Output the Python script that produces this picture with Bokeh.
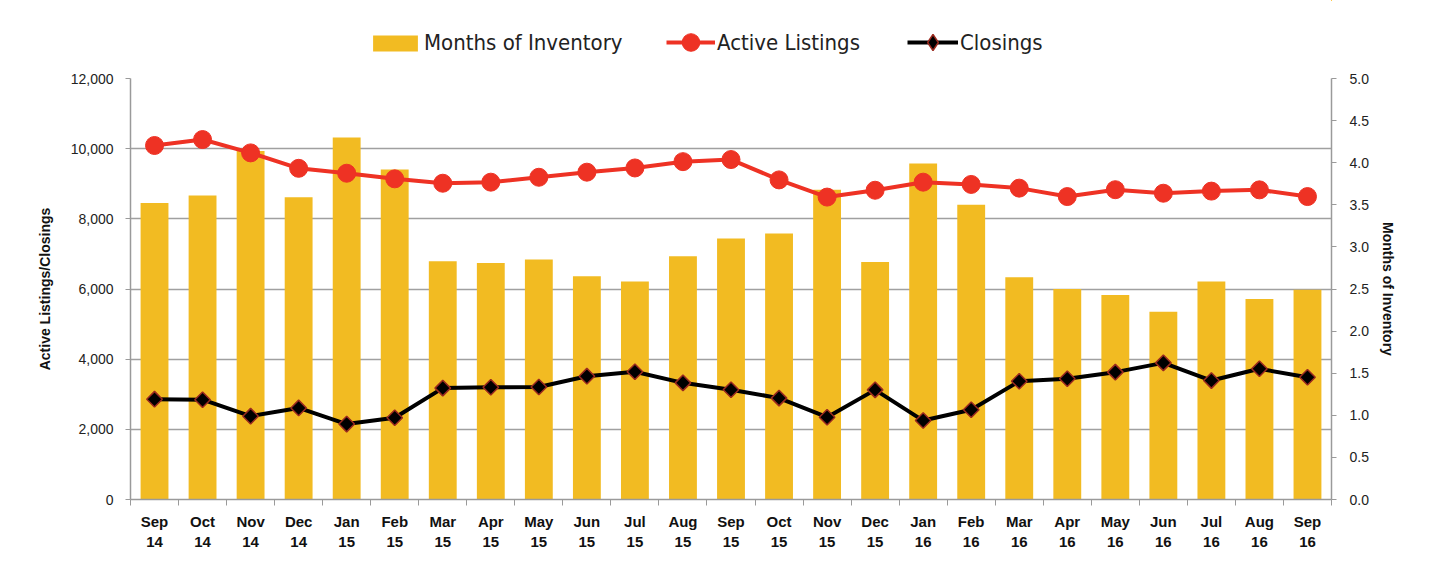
import math
from bokeh.plotting import figure
from bokeh.layouts import column
from bokeh.models import (Range1d, LinearAxis, FixedTicker, NumeralTickFormatter,
                          Legend, LegendItem, ColumnDataSource)
from bokeh.embed import file_html
from bokeh.resources import INLINE

months = ["Sep\n14", "Oct\n14", "Nov\n14", "Dec\n14", "Jan\n15", "Feb\n15", "Mar\n15",
          "Apr\n15", "May\n15", "Jun\n15", "Jul\n15", "Aug\n15", "Sep\n15", "Oct\n15",
          "Nov\n15", "Dec\n15", "Jan\n16", "Feb\n16", "Mar\n16", "Apr\n16", "May\n16",
          "Jun\n16", "Jul\n16", "Aug\n16", "Sep\n16"]
months_of_inventory = [3.52, 3.61, 4.14, 3.59, 4.30, 3.92, 2.83, 2.81, 2.85, 2.65, 2.59, 2.89,
                       3.10, 3.16, 3.68, 2.82, 3.99, 3.50, 2.64, 2.50, 2.43, 2.23, 2.59, 2.38, 2.49]
active_listings = [10090, 10260, 9880, 9440, 9300, 9140, 9015, 9045, 9185, 9330, 9450, 9630,
                   9690, 9110, 8620, 8815, 9045, 8980, 8875, 8635, 8830, 8730, 8790, 8826, 8635]
closings = [2860, 2845, 2375, 2610, 2150, 2330, 3175, 3200, 3205, 3515, 3640, 3325,
            3130, 2890, 2345, 3125, 2250, 2560, 3370, 3440, 3630, 3895, 3390, 3725, 3485]
left_ticks = [0, 2000, 4000, 6000, 8000, 10000, 12000]
right_ticks = [0.0, 0.5, 1.0, 1.5, 2.0, 2.5, 3.0, 3.5, 4.0, 4.5, 5.0]
series_names = ["Months of Inventory", "Active Listings", "Closings"]

n = len(months)
xs = [i + 0.5 for i in range(n)]
src = ColumnDataSource(dict(x=xs, moi=months_of_inventory, al=active_listings, cl=closings))

BAR = "#F2BB22"
RED = "#EE3224"
DIAMOND_EDGE = "#9B2A1F"
GRID = "#A0A0A0"
AX = "#9A9A9A"
FONT = "Liberation Sans"
LEG_FONT = "Liberation Sans Narrow, DejaVu Sans Condensed, sans-serif"

W = 1424
LEG_H = 64
FRAME_LEFT = 130

# ---------------- main chart ----------------
p = figure(width=W, height=560 - LEG_H, output_backend="svg", toolbar_location=None,
           x_range=Range1d(0, n), y_range=Range1d(0, 12000),
           min_border_left=FRAME_LEFT, min_border_right=93, min_border_top=78 - LEG_H,
           min_border_bottom=61,
           background_fill_color="white", border_fill_color="white")
p.outline_line_color = None
p.extra_y_ranges = {"moi": Range1d(0, 5)}

xa = p.xaxis[0]
xa.ticker = FixedTicker(ticks=xs, minor_ticks=list(range(n + 1)))
xa.major_label_overrides = {x: m for x, m in zip(xs, months)}
xa.major_tick_line_color = None
xa.minor_tick_in = 0
xa.minor_tick_out = 6
xa.minor_tick_line_color = AX
xa.axis_line_color = AX
xa.axis_line_width = 1.5
xa.major_label_text_font = FONT
xa.major_label_text_font_style = "bold"
xa.major_label_text_font_size = "15px"
xa.major_label_text_color = "#111111"
xa.major_label_standoff = 7
xa.major_label_text_line_height = 1.2

ya = p.yaxis[0]
ya.ticker = FixedTicker(ticks=left_ticks)
ya.formatter = NumeralTickFormatter(format="0,0")
ya.minor_tick_line_color = None
ya.major_tick_in = 0
ya.major_tick_out = 5
ya.major_tick_line_color = AX
ya.axis_line_color = AX
ya.axis_line_width = 1.5
ya.major_label_text_font = FONT
ya.major_label_text_font_size = "14px"
ya.major_label_text_color = "#222222"
ya.major_label_standoff = 12
ya.axis_label = "Active Listings/Closings"
ya.axis_label_text_font = FONT
ya.axis_label_text_font_style = "bold"
ya.axis_label_text_font_size = "14px"
ya.axis_label_text_color = "#111111"
ya.axis_label_standoff = 15

ra = LinearAxis(y_range_name="moi", ticker=FixedTicker(ticks=right_ticks),
                formatter=NumeralTickFormatter(format="0.0"))
ra.minor_tick_line_color = None
ra.major_tick_in = 0
ra.major_tick_out = 5
ra.major_tick_line_color = AX
ra.axis_line_color = AX
ra.axis_line_width = 1.5
ra.major_label_text_font = FONT
ra.major_label_text_font_size = "14px"
ra.major_label_text_color = "#222222"
ra.major_label_standoff = 13
ra.axis_label = "Months of Inventory"
ra.axis_label_text_font = FONT
ra.axis_label_text_font_style = "bold"
ra.axis_label_text_font_size = "14px"
ra.axis_label_text_color = "#111111"
ra.axis_label_standoff = 8
p.add_layout(ra, "right")

p.xgrid.grid_line_color = None
p.ygrid.ticker = FixedTicker(ticks=left_ticks)
p.ygrid.grid_line_color = GRID
p.ygrid.grid_line_width = 1.5

p.vbar(x="x", top="moi", width=0.58, bottom=0, y_range_name="moi", source=src,
       fill_color=BAR, line_color=None)
p.line("x", "al", source=src, line_color=RED, line_width=4)
p.scatter("x", "al", source=src, marker="circle", size=18, fill_color=RED, line_color=RED)
p.line("x", "cl", source=src, line_color="black", line_width=4)
p.scatter("x", "cl", source=src, marker="square", size=11, angle=math.pi / 4,
          fill_color="black", line_color=DIAMOND_EDGE, line_width=1.5)

# ---------------- legend strip (same series, kept out of view) ----------------
lg = figure(width=W, height=LEG_H, output_backend="svg", toolbar_location=None,
            x_range=Range1d(-100, -99), y_range=Range1d(-100, -99),
            x_axis_location=None, y_axis_location=None,
            min_border=0, background_fill_color="white", border_fill_color="white")
lg.outline_line_color = None
lg.grid.visible = False
r_bar = lg.vbar(x="x", top="moi", width=0.58, source=src, fill_color=BAR, line_color=None)
r_al_l = lg.line("x", "al", source=src, line_color=RED, line_width=4)
r_al_p = lg.scatter("x", "al", source=src, marker="circle", size=18, fill_color=RED,
                    line_color=RED)
r_cl_l = lg.line("x", "cl", source=src, line_color="black", line_width=4)
r_cl_p = lg.scatter("x", "cl", source=src, marker="diamond", size=16,
                    fill_color="black", line_color=DIAMOND_EDGE, line_width=1.5)

groups = [[r_bar], [r_al_l, r_al_p], [r_cl_l, r_cl_p]]
# (left edge of glyph box, glyph width, glyph height, bottom offset, label standoff)
leg_boxes = [(367, 56, 20, 9, 1), (666, 49, 44, 0, 2), (907, 51, 40, 2, 2)]
for name, rends, (lx, gw, gh, vy, so) in zip(series_names, groups, leg_boxes):
    leg = Legend(items=[LegendItem(label=name, renderers=rends)],
                 location=(lx - FRAME_LEFT, vy))
    leg.background_fill_alpha = 0
    leg.border_line_color = None
    leg.padding = 0
    leg.margin = 0
    leg.glyph_width = gw
    leg.glyph_height = gh
    leg.label_standoff = so
    leg.label_text_font = LEG_FONT
    leg.label_text_font_size = "22px"
    leg.label_text_color = "#222222"
    leg.label_text_baseline = "middle"
    lg.add_layout(leg, "center")

layout = column(lg, p, spacing=0)
open("out.html", "w").write(file_html(layout, INLINE))
